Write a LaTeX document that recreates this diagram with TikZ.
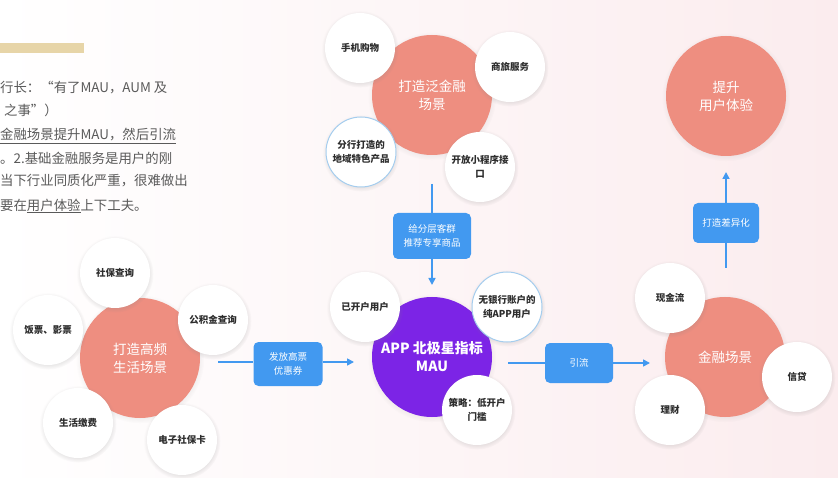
\documentclass[tikz,border=0pt]{standalone}
\usepackage{fontspec}
\setmainfont{Noto Sans CJK SC}
\usetikzlibrary{arrows.meta,shadows,positioning}
\definecolor{salmon}{RGB}{238,142,128}
\definecolor{boxblue}{RGB}{66,153,240}
\definecolor{violet}{RGB}{124,36,230}
\definecolor{ringblue}{RGB}{165,205,238}
\definecolor{bgpink}{RGB}{251,236,238}
\definecolor{sand}{RGB}{231,213,168}
\definecolor{inktext}{RGB}{45,45,45}
\definecolor{greytext}{RGB}{90,90,90}

\tikzset{
  scene/.style={circle, fill=salmon, minimum size=120pt, inner sep=0pt, text=white,
    font=\fontsize{13.5}{18}\selectfont, align=center,
    circular drop shadow={shadow xshift=0pt, shadow yshift=-1pt, shadow scale=1.07, opacity=0.16}},
  item/.style={circle, fill=white, minimum size=70pt, inner sep=0pt, text=inktext,
    font=\bfseries\fontsize{9.5}{14}\selectfont, align=center,
    circular drop shadow={shadow xshift=0pt, shadow yshift=-1pt, shadow scale=1.1, opacity=0.2}},
  ringitem/.style={item, draw=ringblue, line width=1pt},
  tagbox/.style={rounded corners=5pt, fill=boxblue, text=white, inner sep=0pt,
    font=\fontsize{9.5}{14}\selectfont, align=center},
  flow/.style={boxblue, line width=1.6pt},
  flowtip/.style={flow, -{Triangle[length=7pt,width=7pt]}},
  para/.style={anchor=west, text=greytext, font=\fontsize{13.4}{15}\selectfont, inner sep=0pt}
}

\begin{document}
\begin{tikzpicture}[x=1pt, y=-1pt]
  \useasboundingbox (0,0) rectangle (838,478);
  \fill[left color=white, right color=bgpink] (0,0) rectangle (838,478);

  % note on the left
  \fill[sand] (0,43) rectangle (84,53);
  \node[para] (t1) at (0,88) {行长：“有了MAU，AUM 及};
  \node[para] (t2) at (4,110) {之事”）};
  \node[para] (t3) at (0,135) {金融场景提升MAU，然后引流};
  \node[para] (t4) at (0,158) {。2.基础金融服务是用户的刚};
  \node[para] (t5) at (0,181) {当下行业同质化严重，很难做出};
  \node[para] (t6) at (0,206) {要在\underline{用户体验}上下工夫。};
  \draw[greytext, line width=0.6pt] ([yshift=-2pt]t3.south west) -- ([yshift=-2pt]t3.south east);

  \coordinate (P) at (432,95);
  \coordinate (PMP1) at (360,48);
  \coordinate (PMP2) at (510,67);
  \coordinate (PMP3) at (361,152);
  \coordinate (PMP4) at (480,167);

  \coordinate (L) at (140,358);
  \coordinate (LMP1) at (115,273);
  \coordinate (LMP2) at (48,330);
  \coordinate (LMP3) at (213,320);
  \coordinate (LMP4) at (78,423);
  \coordinate (LMP5) at (182,440);

  \coordinate (M) at (432,357);
  \coordinate (MMP1) at (365,307);
  \coordinate (MMP2) at (507,307);
  \coordinate (MMP3) at (477,410);

  \coordinate (F) at (725,357);
  \coordinate (FMP1) at (670,298);
  \coordinate (FMP2) at (670,410);
  \coordinate (FMP3) at (797,377);

  \coordinate (U) at (726,96);

  % pan-finance scene
  \node[scene] (pan) at (P) {打造泛金融\\场景};
  \node[item] (shop) at (PMP1) {手机购物};
  \node[item] (travel) at (PMP2) {商旅服务};
  \node[ringitem] (branch) at (PMP3) {分行打造的\\地域特色产品};
  \node[item] (mini) at (PMP4) {开放小程序接\\口};

  % life scene
  \node[scene] (life) at (L) {打造高频\\生活场景};
  \node[item] (social) at (LMP1) {社保查询};
  \node[item] (ticket) at (LMP2) {饭票、影票};
  \node[item] (fund) at (LMP3) {公积金查询};
  \node[item] (bill) at (LMP4) {生活缴费};
  \node[item] (card) at (LMP5) {电子社保卡};

  % north star
  \node[scene, fill=violet, font=\bfseries\fontsize{14}{18}\selectfont] (mau) at (M) {APP 北极星指标\\MAU};
  \node[item] (opened) at (MMP1) {已开户用户};
  \node[ringitem] (pure) at (MMP2) {无银行账户的\\纯APP用户};
  \node[item] (low) at (MMP3) {策略：低开户\\门槛};

  % finance scene
  \node[scene] (fin) at (F) {金融场景};
  \node[item] (cash) at (FMP1) {现金流};
  \node[item] (wealth) at (FMP2) {理财};
  \node[item] (loan) at (FMP3) {信贷};

  \node[scene] (ux) at (U) {提升\\用户体验};

  % flows
  \coordinate (PA) at (432,184);
  \coordinate (PB) at (432,285);
  \node[tagbox, minimum width=78pt, minimum height=46pt] (push) at (432,236) {给分层客群\\推荐专享商品};
  \draw[flow] (PA) -- (push);
  \draw[flowtip] (push) -- (PB);

  \coordinate (LA) at (218,362);
  \coordinate (LB) at (354,362);
  \node[tagbox, minimum width=69pt, minimum height=44pt] (coupon) at (288,364) {发放高票\\优惠券};
  \draw[flow] (LA) -- (LA -| coupon.west);
  \draw[flowtip] (LB -| coupon.east) -- (LB);

  \coordinate (MA) at (508,363);
  \coordinate (MB) at (650,363);
  \node[tagbox, minimum width=68pt, minimum height=40pt] (lead) at (579,363) {引流};
  \draw[flow] (MA) -- (lead);
  \draw[flowtip] (lead) -- (MB);

  \coordinate (FA) at (726,268);
  \coordinate (FB) at (726,172);
  \node[tagbox, minimum width=66pt, minimum height=40pt] (diff) at (726,223) {打造差异化};
  \draw[flow] (FA) -- (diff);
  \draw[flowtip] (diff) -- (FB);
\end{tikzpicture}
\end{document}
